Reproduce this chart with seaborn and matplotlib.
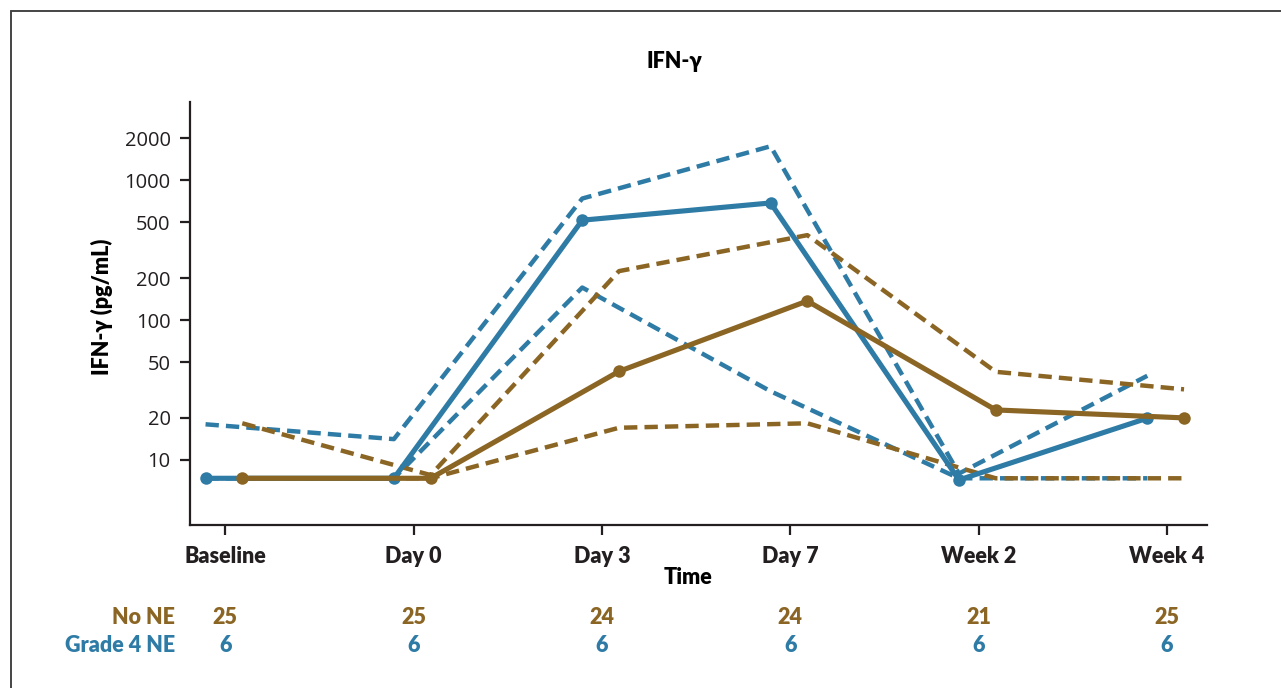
import matplotlib
matplotlib.use("Agg")
import matplotlib.pyplot as plt
from matplotlib.lines import Line2D
import seaborn as sns
import pandas as pd
import numpy as np

# ---- data ----
timepoints = ['Baseline', 'Day 0', 'Day 3', 'Day 7', 'Week 2', 'Week 4']
no_ne_n = [25, 25, 24, 24, 21, 25]
grade4_n = [6, 6, 6, 6, 6, 6]

grade4_median = [7.4, 7.4, 518, 688, 7.2, 19.9]
grade4_q1 = [7.4, 7.4, 171, 31, 7.4, 7.4]
grade4_q3 = [18, 14.1, 740, 1750, 8.0, 40]

no_ne_median = [7.4, 7.4, 43, 137, 22.8, 20]
no_ne_q1 = [7.4, 7.4, 17, 18.3, 7.4, 7.4]
no_ne_q3 = [18.3, 7.8, 224, 405, 42.7, 32]

y_ticks = [10, 20, 50, 100, 200, 500, 1000, 2000]

BLUE = '#2E7BA6'
BROWN = '#8B6524'
DARK = '#231F20'
W = 'heavy'
FS = 15.5

sns.set_style('white')
plt.rcParams['font.family'] = ['Lato', 'DejaVu Sans']

fig = plt.figure(figsize=(12.81, 6.88), dpi=100)
ax = fig.add_axes([190 / 1281, 1 - 525 / 688, (1207 - 190) / 1281, (525 - 102) / 688])

# group -> (color, x offset in category units, series)
groups = {
    'Grade 4 NE': (BLUE, -0.105, grade4_median, grade4_q1, grade4_q3),
    'No NE': (BROWN, 0.09, no_ne_median, no_ne_q1, no_ne_q3),
}

xpos = np.arange(len(timepoints))
dash = (0, (3.0, 1.6))

for name, (color, off, med, q1, q3) in groups.items():
    df = pd.DataFrame({'x': xpos + off, 'median': med, 'q1': q1, 'q3': q3})
    for col in ['q1', 'q3']:
        sns.lineplot(data=df, x='x', y=col, ax=ax, color=color, lw=3.2,
                     linestyle=dash, sort=False, estimator=None)

for name, (color, off, med, q1, q3) in groups.items():
    df = pd.DataFrame({'x': xpos + off, 'median': med})
    sns.lineplot(data=df, x='x', y='median', ax=ax, color=color, lw=3.7,
                 marker='o', markersize=9, markeredgewidth=0, sort=False,
                 estimator=None)

ax.set_yscale('log')
ax.set_ylim(3.43, 3625)
ax.set_xlim(-0.1875, 5.212)
ax.set_yticks(y_ticks)
ax.set_yticklabels([str(t) for t in y_ticks], fontsize=14.5, family=['Open Sans', 'DejaVu Sans'])
ax.yaxis.set_minor_locator(matplotlib.ticker.NullLocator())
ax.set_xticks(xpos)
ax.set_xticklabels(timepoints, fontsize=FS, fontweight=W)

for s in ['top', 'right']:
    ax.spines[s].set_visible(False)
for s in ['left', 'bottom']:
    ax.spines[s].set_color(DARK)
    ax.spines[s].set_linewidth(1.6)
ax.tick_params(axis='both', direction='out', length=7, width=1.6, color=DARK,
               labelcolor=DARK, left=True, bottom=True)
ax.tick_params(axis='y', pad=7)
ax.tick_params(axis='x', pad=8)

ax.set_xlabel('')
ax.set_ylabel('')
fig.text(102 / 1281, 1 - 307 / 688, 'IFN-γ (pg/mL)', rotation=90, ha='center',
         va='center', fontsize=FS, fontweight=W, color='black')
fig.text(688 / 1281, 1 - 578 / 688, 'Time', ha='center', va='center',
         fontsize=FS, fontweight=W, color='black')
fig.text(674 / 1281, 1 - 62 / 688, 'IFN-γ', ha='center', va='center',
         fontsize=FS, fontweight=W, color='black')

# numbers at risk below the axis
trans = matplotlib.transforms.blended_transform_factory(ax.transData, fig.transFigure)
fig.text(175 / 1281, 1 - 617 / 688, 'No NE', ha='right', va='center',
         fontsize=FS, fontweight=W, color=BROWN)
fig.text(175 / 1281, 1 - 645 / 688, 'Grade 4 NE', ha='right', va='center',
         fontsize=FS, fontweight=W, color=BLUE)
for i, (a, b) in enumerate(zip(no_ne_n, grade4_n)):
    ax.text(i, 1 - 617 / 688, str(a), transform=trans, ha='center', va='center',
            fontsize=FS, fontweight=W, color=BROWN)
    ax.text(i, 1 - 645 / 688, str(b), transform=trans, ha='center', va='center',
            fontsize=FS, fontweight=W, color=BLUE)

# frame of the panel (left and top edges only visible)
fig.add_artist(Line2D([10.5 / 1281, 10.5 / 1281], [0, 1 - 10.5 / 688],
                      transform=fig.transFigure, color='#444444', lw=1.4))
fig.add_artist(Line2D([10.5 / 1281, 1], [1 - 10.5 / 688, 1 - 10.5 / 688],
                      transform=fig.transFigure, color='#444444', lw=1.4))

fig.savefig('out.png', dpi=100)
